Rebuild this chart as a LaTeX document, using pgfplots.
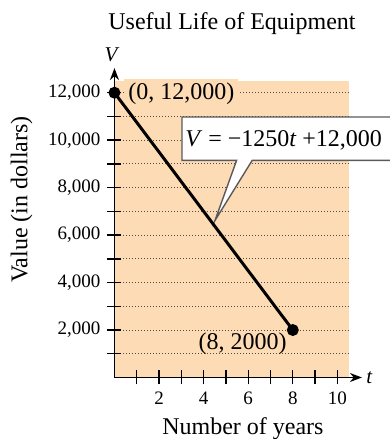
\documentclass[border=0pt]{standalone}
\usepackage{fontspec}
\setmainfont{Liberation Serif}
\usepackage{pgfplots}
\pgfplotsset{compat=1.18}
\usetikzlibrary{arrows.meta}

\definecolor{peach}{RGB}{253,219,180}
\definecolor{boxline}{RGB}{90,90,90}

\begin{document}
\begin{tikzpicture}[font=\fontsize{12}{14}\selectfont]
\begin{axis}[
    x=11.15pt, y=0.011865pt,
    xmin=0, xmax=10.5, ymin=0, ymax=12500,
    enlargelimits=false,
    clip=false,
    axis lines=left,
    axis background/.style={fill=peach},
    x axis line style={line width=0.8pt, -{Stealth[length=6pt,width=4.5pt]}, shorten >=-6.7pt},
    y axis line style={line width=0.8pt, -{Stealth[length=6pt,width=4.5pt]}, shorten >=-6.4pt},
    xtick={2,4,6,8,10},
    minor xtick={1,3,5,7,9},
    ytick={2000,4000,6000,8000,10000,12000},
    minor ytick={1000,3000,5000,7000,9000,11000},
    tick align=center,
    major tick length=7pt, minor tick length=7pt,
    tick style={black, line width=0.7pt},
    ymajorgrids, yminorgrids,
    major grid style={black!70, line width=0.5pt, dash pattern=on 0.5pt off 1pt},
    minor grid style={black!70, line width=0.5pt, dash pattern=on 0.5pt off 1pt},
    tick label style={font=\fontsize{9.5}{11}\selectfont},
    /pgf/number format/assume math mode=true,
    /pgf/number format/1000 sep={,},
    scaled y ticks=false,
]
% bounding box of the reference picture
\coordinate (bbsw) at (axis cs:-5.135,-2592);
\coordinate (bbne) at (axis cs:12.354,15908);

% titles and axis names
\node[anchor=base west, inner sep=0] at (axis cs:-0.29,14644) {Useful Life of Equipment};
\node[anchor=base, inner sep=0, font=\fontsize{10.5}{12}\selectfont] at (axis cs:-0.11,13308) {\textit{V}};
\node[anchor=base west, inner sep=0, font=\fontsize{10.5}{12}\selectfont] at (axis cs:11.28,-244) {\textit{t}};
\node[anchor=base west, inner sep=0] at (axis cs:2.13,-2423) {Number of years};
\node[anchor=base, inner sep=0, rotate=90] at (axis cs:-3.91,7501) {Value (in dollars)};

% point labels
\node[anchor=base west, fill=peach, inner xsep=2pt, inner ysep=2pt] at (axis cs:0.426,11723) {(0, 12,000)};
\node[anchor=base west, inner sep=0] at (axis cs:3.76,1159) {(8, 2000)};

% callout
\draw[fill=white, draw=boxline, line width=0.7pt]
    (axis cs:3.03,10977) -- (axis cs:14,10977) -- (axis cs:14,9150)
    -- (axis cs:6.18,9150) -- (axis cs:4.51,6616) -- (axis cs:5.48,9150)
    -- (axis cs:3.03,9150) -- cycle;
\node[anchor=base west, inner sep=0] at (axis cs:3.16,9726)
    {\textit{V} = −1250\textit{t} +12,000};

\addplot[black, line width=1.5pt, mark=*, mark size=2.2pt, mark options={solid}]
    coordinates {(0,12000) (8,2000)};
\end{axis}
\pgfresetboundingbox
\path[use as bounding box] (bbsw) rectangle (bbne);
\end{tikzpicture}
\end{document}
